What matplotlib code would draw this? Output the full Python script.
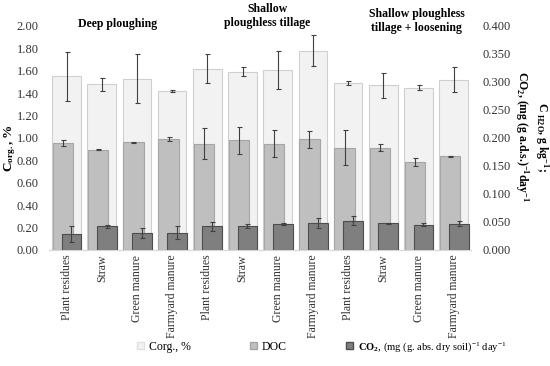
import matplotlib
matplotlib.use("Agg")
import matplotlib.pyplot as plt
import matplotlib.ticker as ticker
from matplotlib.patches import Patch
import numpy as np

plt.rcParams['font.family'] = ['Liberation Serif', 'DejaVu Serif']
plt.rcParams['mathtext.fontset'] = 'custom'
plt.rcParams['mathtext.rm'] = 'Liberation Serif'
plt.rcParams['mathtext.it'] = 'Liberation Serif:italic'
plt.rcParams['mathtext.bf'] = 'Liberation Serif:bold'
plt.rcParams['mathtext.default'] = 'rm'

# data
treatments = ['Plant residues', 'Straw', 'Green manure', 'Farmyard manure'] * 3
systems = ['Deep ploughing', 'Shallow\nploughless tillage', 'Shallow ploughless\ntillage + loosening']

corg = [1.55, 1.48, 1.53, 1.42, 1.62, 1.59, 1.61, 1.78, 1.49, 1.47, 1.45, 1.52]
corg_err = [0.22, 0.06, 0.22, 0.01, 0.13, 0.04, 0.17, 0.14, 0.02, 0.11, 0.02, 0.11]

doc = [0.191, 0.179, 0.192, 0.198, 0.190, 0.196, 0.190, 0.198, 0.183, 0.183, 0.157, 0.167]
doc_err = [0.006, 0.001, 0.001, 0.004, 0.028, 0.024, 0.024, 0.015, 0.032, 0.007, 0.007, 0.001]

co2 = [0.029, 0.042, 0.030, 0.031, 0.042, 0.043, 0.047, 0.048, 0.052, 0.048, 0.045, 0.047]
co2_err = [0.014, 0.002, 0.009, 0.011, 0.008, 0.003, 0.002, 0.009, 0.008, 0.001, 0.003, 0.004]

x = np.arange(len(treatments))

fig = plt.figure(figsize=(5.5, 3.66), dpi=100)
ax = fig.add_axes([0.089, 0.317, 0.768, 0.612])
ax2 = ax.twinx()

err_kw = dict(ecolor='#404040', elinewidth=0.8, capsize=1.8, capthick=0.8)

ax.bar(x, corg, width=0.81, color='#f2f2f2', edgecolor='#cfcfcf', linewidth=0.8,
       yerr=corg_err, error_kw=err_kw, zorder=2)
ax2.bar(x - 0.10, doc, width=0.58, color='#bfbfbf', edgecolor='#a6a6a6', linewidth=0.8,
        yerr=doc_err, error_kw=err_kw, zorder=2)
ax2.bar(x + 0.14, co2, width=0.56, color='#7f7f7f', edgecolor='#4d4d4d', linewidth=0.8,
        yerr=co2_err, error_kw=err_kw, zorder=3)

ax.set_xlim(-0.5, len(treatments) - 0.5)
ax.set_ylim(0, 2.0)
ax2.set_ylim(0, 0.4)
ax.yaxis.set_major_locator(ticker.MultipleLocator(0.2))
ax.yaxis.set_major_formatter(ticker.FormatStrFormatter('%.2f'))
ax2.yaxis.set_major_locator(ticker.MultipleLocator(0.05))
ax2.yaxis.set_major_formatter(ticker.FormatStrFormatter('%.3f'))

ax.set_xticks(x)
ax.set_xticklabels(treatments, rotation=90, fontsize=8.5)
ax.tick_params(axis='x', length=0, pad=3.5, colors='#333333')
ax.tick_params(axis='y', length=0, labelsize=9, pad=7.5, colors='#333333')
ax2.tick_params(axis='y', length=0, labelsize=9, pad=8, colors='#333333')

for a in (ax, ax2):
    for s in ('top', 'left', 'right'):
        a.spines[s].set_visible(False)
    a.spines['bottom'].set_color('#d9d9d9')

# system titles above the groups
title_x = [1.45, 5.7, 9.95]
title_y = [2.02, 2.09, 2.045]
for tx, ty, s in zip(title_x, title_y, systems):
    ax.text(tx, ty, s, ha='center', va='center', fontsize=8.5, fontweight='bold',
            clip_on=False, linespacing=1.15)

fig.text(10.5 / 550, 0.596, r'$\mathbf{C_{org.}}$, %', rotation=90, ha='center', va='center',
         fontsize=9.5, fontweight='bold')
fig.text(532 / 550, 0.626,
         'C $\\mathbf{_{H2O}}$, g kg$\\mathbf{^{-1}}$;\nCO$\\mathbf{_{2}}$, (mg (g a.d.s.)$\\mathbf{^{-1}}$day$\\mathbf{^{-1}}$',
         rotation=-90, ha='center', va='center', fontsize=8.5, fontweight='bold',
         linespacing=1.15)

handles = [Patch(facecolor='#f2f2f2', edgecolor='#e0e0e0'),
           Patch(facecolor='#bfbfbf', edgecolor='#a6a6a6'),
           Patch(facecolor='#7f7f7f', edgecolor='#4d4d4d')]
labels = ['Corg., %', 'DOC', r'$\mathbf{CO_2}$, (mg (g. abs. dry soil)$^{-1}$ day$^{-1}$']
leg = fig.legend(handles, labels, loc='center', bbox_to_anchor=(0.585, 0.052), ncol=3,
                 frameon=False, fontsize=8.5, handlelength=0.6, handleheight=0.6,
                 handletextpad=0.4, columnspacing=5.0)
leg.get_texts()[2].set_fontsize(7.6)

fig.savefig('out.png', dpi=100)
